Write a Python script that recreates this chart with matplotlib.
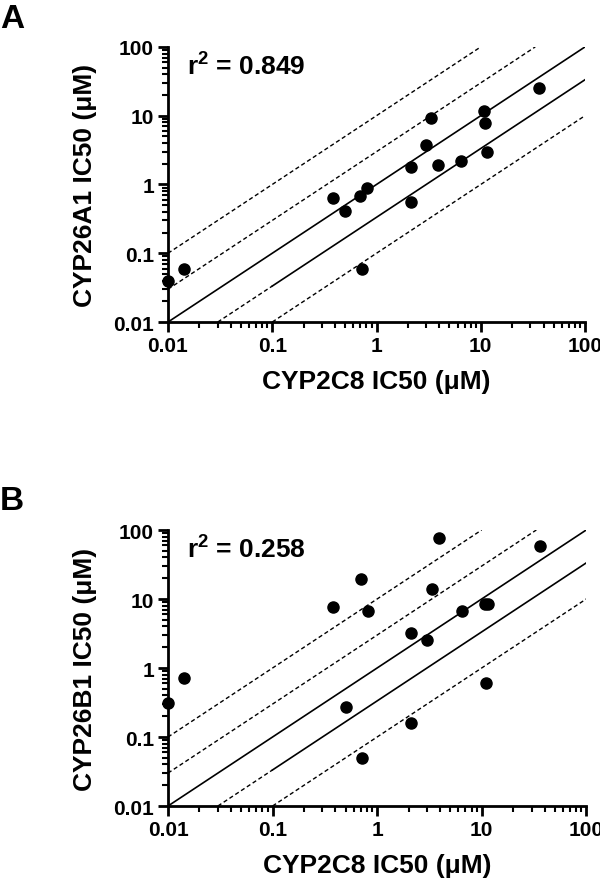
import matplotlib
matplotlib.use("Agg")
import matplotlib.pyplot as plt
import numpy as np
from matplotlib.ticker import LogLocator, NullFormatter, FixedLocator, FixedFormatter

plt.rcParams["font.family"] = ["Liberation Sans", "DejaVu Sans"]
plt.rcParams["font.weight"] = "bold"
plt.rcParams["mathtext.fontset"] = "custom"
plt.rcParams["mathtext.rm"] = "Liberation Sans:bold"
plt.rcParams["mathtext.bf"] = "Liberation Sans:bold"

# CYP2C8 IC50 (uM), shared x values for both panels
cyp2c8 = [0.01, 0.0143, 0.38, 0.50, 0.70, 0.815, 0.724, 2.13, 2.13,
          3.0, 3.32, 3.87, 6.46, 10.7, 11.0, 11.5, 36.0]
# CYP26A1 IC50 (uM)
cyp26a1 = [0.040, 0.060, 0.63, 0.41, 0.69, 0.90, 0.060, 1.78, 0.55,
           3.8, 9.3, 1.92, 2.22, 11.8, 7.8, 2.94, 25.5]
# CYP26B1 IC50 (uM)
cyp26b1 = [0.315, 0.71, 7.66, 0.27, 19.7, 6.78, 0.050, 3.25, 0.16,
           2.58, 13.9, 76.6, 6.7, 8.5, 0.61, 8.5, 58.6]

r2_values = ["0.849", "0.258"]
ylabels = ["CYP26A1 IC50 (\u03bcM)", "CYP26B1 IC50 (\u03bcM)"]
panel_letters = ["A", "B"]
tick_vals = [0.01, 0.1, 1, 10, 100]
tick_labels = ["0.01", "0.1", "1", "10", "100"]

LO, HI = 0.01, 100.0
DASH = (0, (3, 2))


def draw_panel(ax, yvals, r2, ylabel, letter, fig_letter_y):
    ax.set_xscale("log")
    ax.set_yscale("log")
    ax.set_xlim(LO, HI)
    ax.set_ylim(LO, HI)

    # 10-fold and 3-fold above the identity line
    for fold in (10, 3):
        ax.plot([LO, HI / fold], [fold * LO, HI], color="black", lw=1.0, linestyle=DASH)
    ax.plot([LO, HI], [LO, HI], color="black", lw=1.2)
    # 3-fold below: dashed start, solid from 0.1
    ax.plot([LO * 3, 0.1], [LO, 0.1 / 3], color="black", lw=1.0, linestyle=DASH)
    ax.plot([0.1, HI], [0.1 / 3, HI / 3], color="black", lw=1.2)
    ax.plot([LO * 10, HI], [LO, HI / 10], color="black", lw=1.0, linestyle=DASH)

    ax.plot(cyp2c8, yvals, "o", color="black", ms=8, clip_on=False, zorder=5)

    for s in ("top", "right"):
        ax.spines[s].set_visible(False)
    for s in ("left", "bottom"):
        ax.spines[s].set_linewidth(2.0)

    ax.xaxis.set_major_locator(FixedLocator(tick_vals))
    ax.xaxis.set_major_formatter(FixedFormatter(tick_labels))
    ax.yaxis.set_major_locator(FixedLocator(tick_vals))
    ax.yaxis.set_major_formatter(FixedFormatter(tick_labels))
    ax.xaxis.set_minor_locator(LogLocator(base=10, subs=np.arange(2, 10), numticks=20))
    ax.yaxis.set_minor_locator(LogLocator(base=10, subs=np.arange(2, 10), numticks=20))
    ax.xaxis.set_minor_formatter(NullFormatter())
    ax.yaxis.set_minor_formatter(NullFormatter())
    ax.tick_params(which="major", length=7, width=2, labelsize=15, pad=3)
    ax.tick_params(which="minor", length=4, width=1.5)
    for lab in ax.get_xticklabels() + ax.get_yticklabels():
        lab.set_fontweight("bold")

    ax.set_xlabel("CYP2C8 IC50 (\u03bcM)", fontsize=19, fontweight="bold", labelpad=10)
    ax.set_ylabel(ylabel, fontsize=19, fontweight="bold", labelpad=12)

    ax.text(0.046, 0.93, r"$\mathbf{r^2}$ = " + r2, transform=ax.transAxes,
            fontsize=19, fontweight="bold", va="center", ha="left")
    ax.figure.text(0.0, fig_letter_y, letter, fontsize=24, fontweight="bold",
                   va="center", ha="left")


fig = plt.figure(figsize=(6, 8.79), dpi=100)
ax_a = fig.add_axes([0.28, 0.6325, 0.695, 0.313])
ax_b = fig.add_axes([0.28, 0.0819, 0.697, 0.314])

draw_panel(ax_a, cyp26a1, r2_values[0], ylabels[0], panel_letters[0], 1 - 20 / 879)
draw_panel(ax_b, cyp26b1, r2_values[1], ylabels[1], panel_letters[1], 1 - 502 / 879)

fig.savefig("out.png", dpi=100)
